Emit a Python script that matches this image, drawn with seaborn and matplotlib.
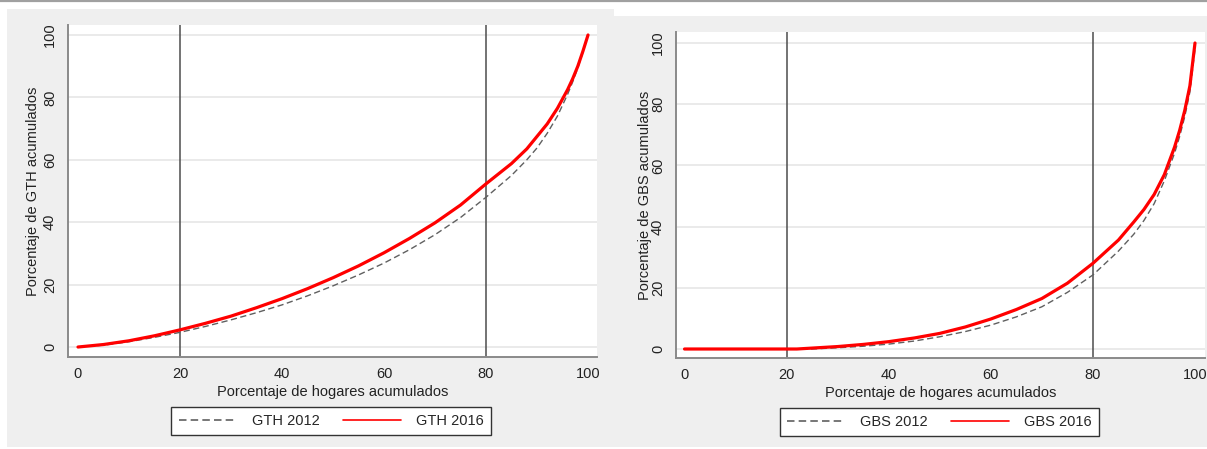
import matplotlib
matplotlib.use("Agg")
import matplotlib.pyplot as plt
from matplotlib.patches import Rectangle
from matplotlib.lines import Line2D
import seaborn as sns
import pandas as pd

# ---- data ----
gth_x = [0, 5, 10, 15, 20, 25, 30, 35, 40, 45, 50, 55, 60, 65, 70, 75, 80, 85, 88, 90, 92, 94, 96, 97, 98, 99, 100]
gth_2012 = [0, 0.6, 1.7, 3.1, 4.7, 6.6, 8.7, 11.0, 13.5, 16.4, 19.6, 23.1, 26.9, 31.2, 36.0, 41.5, 48.0, 55.0, 60.0, 63.8, 68.5, 74.0, 81.0, 85.0, 89.5, 94.5, 100]
gth_2016 = [0, 0.8, 2.0, 3.6, 5.5, 7.6, 9.9, 12.6, 15.5, 18.7, 22.2, 26.0, 30.2, 34.8, 39.8, 45.5, 52.3, 58.8, 63.5, 67.5, 71.5, 76.5, 82.5, 86.0, 90.0, 94.8, 100]

gbs_x = [0, 10, 20, 22, 25, 30, 35, 40, 45, 50, 55, 60, 65, 70, 75, 80, 85, 88, 90, 92, 94, 96, 97, 98, 99, 100]
gbs_2012 = [0, 0, 0, 0, 0, 0.4, 0.9, 1.6, 2.6, 4.0, 5.7, 7.8, 10.5, 13.8, 18.5, 24.2, 32.0, 37.5, 42.0, 47.5, 55.0, 64.0, 69.5, 76.0, 84.0, 98.0]
gbs_2016 = [0, 0, 0, 0, 0.3, 0.8, 1.5, 2.4, 3.6, 5.1, 7.2, 9.8, 12.9, 16.5, 21.5, 28.0, 35.6, 41.5, 45.6, 50.5, 57.0, 66.0, 71.5, 78.0, 86.0, 100]

ticks = [0, 20, 40, 60, 80, 100]
vlines = [20, 80]
xlabel = "Porcentaje de hogares acumulados"
ylabels = ["Porcentaje de GTH acumulados", "Porcentaje de GBS acumulados"]
labels = [("GTH 2012", "GTH 2016"), ("GBS 2012", "GBS 2016")]

sns.set_style("white")
plt.rcParams['font.family'] = ['Liberation Sans', 'DejaVu Sans']

W, H = 1207, 449
fig = plt.figure(figsize=(W / 100, H / 100), dpi=100)
fig.patch.set_facecolor("white")

def fx(px):
    return px / W

def fy(py):
    return 1 - py / H

BG = "#efefef"
fig.patches.append(Rectangle((fx(7), fy(447)), fx(614 - 7), (447 - 9) / H,
                             transform=fig.transFigure, facecolor=BG, edgecolor="none", zorder=-10))
fig.patches.append(Rectangle((fx(614), fy(447)), fx(1207 - 614), (447 - 16) / H,
                             transform=fig.transFigure, facecolor=BG, edgecolor="none", zorder=-10))
fig.lines.append(Line2D([0, 1], [fy(0.8), fy(0.8)], transform=fig.transFigure, color="#a0a0a0", lw=1.6))

panels = [
    dict(rect=(68, 25, 597, 357), xlim=(-1.96, 101.76), ylim=(-3.2, 103.2),
         x=gth_x, y12=gth_2012, y16=gth_2016, leg=(331, 421), ylab_x=33, xlab_y=392),
    dict(rect=(676, 32, 1205, 358), xlim=(-1.67, 101.96), ylim=(-2.94, 103.6),
         x=gbs_x, y12=gbs_2012, y16=gbs_2016, leg=(939, 422), ylab_x=645, xlab_y=393),
]

for i, p in enumerate(panels):
    l, t, r, b = p["rect"]
    ax = fig.add_axes([fx(l), fy(b), fx(r - l), (b - t) / H])
    ax.set_facecolor("white")
    df = pd.DataFrame({"x": p["x"], "a": p["y12"], "b": p["y16"]})
    for yv in ticks:
        ax.axhline(yv, color="#e8e8e8", lw=1.3, zorder=0)
    for xv in vlines:
        ax.axvline(xv, color="#4d4d4d", lw=1.1, zorder=1)
    sns.lineplot(data=df, x="x", y="a", ax=ax, color="#606060", lw=1.0,
                 linestyle=(0, (4.5, 2.5)), label=labels[i][0], zorder=3)
    sns.lineplot(data=df, x="x", y="b", ax=ax, color="#ff0000", lw=2.3,
                 label=labels[i][1], zorder=4)
    ax.set_xlim(*p["xlim"])
    ax.set_ylim(*p["ylim"])
    ax.set_xticks(ticks)
    ax.set_yticks(ticks)
    ax.set_xticklabels([str(v) for v in ticks], fontsize=10.5)
    ax.set_yticklabels([str(v) for v in ticks], fontsize=10.5, rotation=90, va="center")
    ax.tick_params(axis="both", direction="out", length=4, width=1, color="#666666",
                   pad=3, labelcolor="#222222")
    ax.tick_params(axis="y", pad=4)
    for s in ["top", "right"]:
        ax.spines[s].set_visible(False)
    for s in ["left", "bottom"]:
        ax.spines[s].set_color("#8a8a8a")
        ax.spines[s].set_linewidth(1.4)
    ax.set_xlabel("")
    ax.set_ylabel("")
    fig.text(fx((l + r) / 2), fy(p["xlab_y"]), xlabel, ha="center", va="center",
             fontsize=10.5, color="#222222")
    fig.text(fx(p["ylab_x"]), fy((t + b) / 2), ylabels[i], ha="center", va="center",
             rotation=90, fontsize=10.5, color="#222222")
    leg = ax.legend(loc="center", bbox_to_anchor=(fx(p["leg"][0]), fy(p["leg"][1])),
                    bbox_transform=fig.transFigure, ncol=2, frameon=True, fancybox=False,
                    edgecolor="#333333", framealpha=1, fontsize=10.5, handlelength=4.0,
                    columnspacing=1.6, borderpad=0.5, handletextpad=1.0, borderaxespad=0)
    leg.get_frame().set_linewidth(1.0)
    for h in leg.get_lines():
        h.set_linewidth(1.2)

fig.savefig("out.png", dpi=100, facecolor="white")
